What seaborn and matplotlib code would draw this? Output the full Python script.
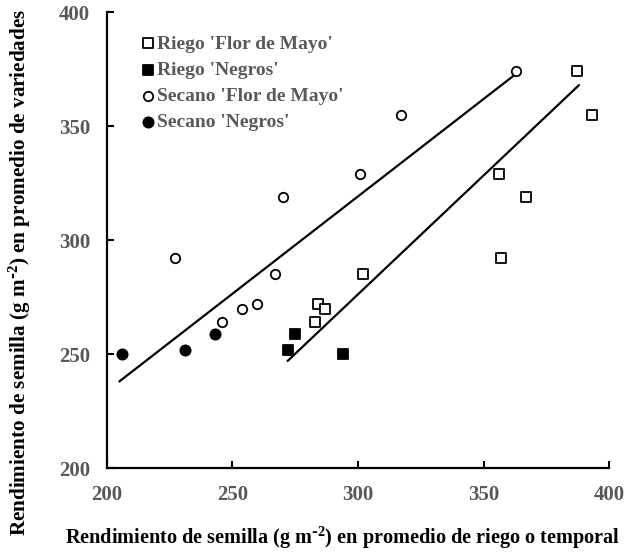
import matplotlib
matplotlib.use("Agg")
import matplotlib.pyplot as plt
import seaborn as sns

# values
riego_fm_x = [387, 393, 356, 367, 357, 302, 284, 287, 283]
riego_fm_y = [374, 355, 329, 319, 292, 285, 272, 270, 264]
riego_neg_x = [275, 272, 294]
riego_neg_y = [259, 252, 250]
secano_fm_x = [363, 317, 301, 270, 227, 267, 260, 254, 246]
secano_fm_y = [374, 355, 329, 319, 292, 285, 272, 270, 264]
secano_neg_x = [206, 231, 243]
secano_neg_y = [250, 252, 259]

# trend lines (end points)
secano_fit_x = [205, 363]
secano_fit_y = [238, 373]
riego_fit_x = [272, 388]
riego_fit_y = [247, 368]

ticks = [200, 250, 300, 350, 400]

sns.set_style("ticks")
plt.rcParams['font.family'] = ['Liberation Serif', 'DejaVu Serif']
plt.rcParams['font.weight'] = 'bold'
plt.rcParams['mathtext.default'] = 'regular'

gray = '#595959'

fig = plt.figure(figsize=(6.28, 5.52), dpi=100)
ax = fig.add_axes([0.170, 0.152, 0.800, 0.826])

sns.lineplot(x=secano_fit_x, y=secano_fit_y, color='black', linewidth=1.6, ax=ax)
sns.lineplot(x=riego_fit_x, y=riego_fit_y, color='black', linewidth=1.6, ax=ax)

ms = 46
sns.scatterplot(x=riego_fm_x, y=riego_fm_y, marker='s', s=ms, color='white',
                edgecolor='black', linewidth=1.3, label="Riego 'Flor de Mayo'", ax=ax, zorder=3)
sns.scatterplot(x=riego_neg_x, y=riego_neg_y, marker='s', s=ms, color='black',
                edgecolor='black', linewidth=1.3, label="Riego 'Negros'", ax=ax, zorder=3)
sns.scatterplot(x=secano_fm_x, y=secano_fm_y, marker='o', s=ms, color='white',
                edgecolor='black', linewidth=1.3, label="Secano 'Flor de Mayo'", ax=ax, zorder=3)
sns.scatterplot(x=secano_neg_x, y=secano_neg_y, marker='o', s=ms + 8, color='black',
                edgecolor='black', linewidth=1.3, label="Secano 'Negros'", ax=ax, zorder=3)

ax.set_xlim(200, 400)
ax.set_ylim(200, 400)
ax.set_xticks(ticks)
ax.set_yticks(ticks)
sns.despine(ax=ax)
for s in ['left', 'bottom']:
    ax.spines[s].set_linewidth(1.6)
    ax.spines[s].set_color('black')
ax.tick_params(direction='in', length=5, width=1.5, color='black',
               labelsize=15, labelcolor=gray, pad=12)
for lab in ax.get_xticklabels() + ax.get_yticklabels():
    lab.set_fontweight('bold')

sup = r"$^{\mathregular{\text{-}2}}$"
ax.set_xlabel("Rendimiento de semilla (g m" + sup + ") en promedio de riego o temporal",
              fontsize=14.6, fontweight='bold', color='black')
ax.set_ylabel("Rendimiento de semilla (g m" + sup + ") en promedio de variedades",
              fontsize=15.2, fontweight='bold', color='black')
ax.xaxis.set_label_coords(0.47, -0.124)
ax.yaxis.set_label_coords(-0.147, 0.43)

leg = ax.legend(loc='upper left', bbox_to_anchor=(0.07, 0.95), frameon=False,
                borderpad=0, borderaxespad=0, handlelength=0.6, handletextpad=0.2,
                labelspacing=0.44, prop={'family': 'Liberation Serif', 'weight': 'bold', 'size': 14})
for t in leg.get_texts():
    t.set_color(gray)

fig.savefig("out.png", dpi=100)
